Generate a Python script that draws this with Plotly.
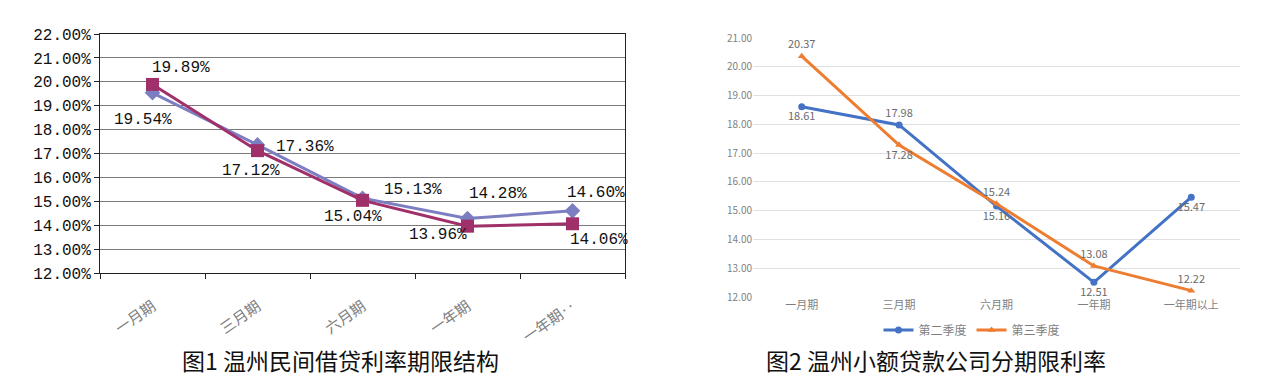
import plotly.graph_objects as go

# ---- data: chart 1 (温州民间借贷利率期限结构) ----
cats1 = ["一月期", "三月期", "六月期", "一年期", "一年期‥"]
s1_a = [19.54, 17.36, 15.13, 14.28, 14.60]   # diamond series
s1_b = [19.89, 17.12, 15.04, 13.96, 14.06]   # square series
y1_ticks = [12, 13, 14, 15, 16, 17, 18, 19, 20, 21, 22]

# ---- data: chart 2 (温州小额贷款公司分期限利率) ----
cats2 = ["一月期", "三月期", "六月期", "一年期", "一年期以上"]
q2 = [18.61, 17.98, 15.16, 12.51, 15.47]     # 第二季度
q3 = [20.37, 17.28, 15.24, 13.08, 12.22]     # 第三季度
y2_ticks = [12, 13, 14, 15, 16, 17, 18, 19, 20, 21]

# label offsets (styling, in px) for chart 1 data labels
off_a = [(-10, 27), (47, 2), (50, -8), (30, -25), (23, -18)]
off_b = [(28, -16), (-7, 20), (-10, 17), (-30, 9), (26, 16)]

W, H = 1265, 389
OX, OY = 8, 8   # page body margin compensation
def px(x):
    return (x - OX) / W
def py(y):
    return 1 - (y - OY) / H

mono = "Liberation Mono, DejaVu Sans Mono, monospace"
cjk = "Noto Sans CJK SC, sans-serif"

fig = go.Figure()

# chart 1 traces
fig.add_trace(go.Scatter(
    x=cats1, y=s1_a, mode="lines+markers", xaxis="x", yaxis="y",
    line=dict(color="#7C7EC2", width=3),
    marker=dict(symbol="diamond", size=12, color="#7C7EC2"),
    showlegend=False, cliponaxis=False))
fig.add_trace(go.Scatter(
    x=cats1, y=s1_b, mode="lines+markers", xaxis="x", yaxis="y",
    line=dict(color="#A0306A", width=3),
    marker=dict(symbol="square", size=13, color="#A0306A"),
    showlegend=False, cliponaxis=False))

# chart 2 traces
fig.add_trace(go.Scatter(
    x=cats2, y=q2, mode="lines+markers+text", xaxis="x2", yaxis="y2",
    name="第二季度",
    line=dict(color="#4472C4", width=3),
    marker=dict(symbol="circle", size=7, color="#4472C4"),
    text=[f"{v:.2f}" for v in q2],
    textposition=["bottom center", "top center", "bottom center", "bottom center", "bottom center"],
    textfont=dict(family=cjk, size=11, color="#6b6b6b"),
    cliponaxis=False))
fig.add_trace(go.Scatter(
    x=cats2, y=q3, mode="lines+markers+text", xaxis="x2", yaxis="y2",
    name="第三季度",
    line=dict(color="#ED7D31", width=3),
    marker=dict(symbol="triangle-up", size=7, color="#ED7D31"),
    text=[f"{v:.2f}" for v in q3],
    textposition=["top center", "bottom center", "top center", "top center", "top center"],
    textfont=dict(family=cjk, size=11, color="#6b6b6b"),
    cliponaxis=False))

annos = []
for series, offs in ((s1_a, off_a), (s1_b, off_b)):
    for c, v, (dx, dy) in zip(cats1, series, offs):
        annos.append(dict(text=f"{v:.2f}%", x=c, y=v, xref="x", yref="y",
                          showarrow=False, xanchor="center", yanchor="middle",
                          xshift=dx, yshift=-dy,
                          font=dict(family=mono, size=16, color="#111111")))

annos += [
    dict(text="图1 温州民间借贷利率期限结构", x=px(340), y=py(360),
         xref="paper", yref="paper", showarrow=False,
         xanchor="center", yanchor="middle",
         font=dict(family=cjk, size=23, color="#111111")),
    dict(text="图2 温州小额贷款公司分期限利率", x=px(936), y=py(360),
         xref="paper", yref="paper", showarrow=False,
         xanchor="center", yanchor="middle",
         font=dict(family=cjk, size=23, color="#111111")),
]

fig.update_layout(
    width=W, height=H,
    margin=dict(l=0, r=0, t=0, b=0, autoexpand=False),
    paper_bgcolor="white", plot_bgcolor="white",
    xaxis=dict(domain=[px(100), px(625)], type="category", range=[-0.5, 4.5],
               showline=True, linecolor="#222222", linewidth=1, mirror=True,
               ticks="outside", tickson="boundaries", ticklen=5, tickcolor="#222222",
               tickangle=-35, ticklabelstandoff=18,
               tickfont=dict(family=cjk, size=15, color="#808080"),
               showgrid=False, anchor="y", automargin=False),
    yaxis=dict(domain=[py(273), py(34)], range=[12, 22], tickvals=y1_ticks,
               ticktext=[f"{t:.2f}%" for t in y1_ticks],
               showline=True, linecolor="#222222", linewidth=1, mirror=True,
               ticks="outside", ticklen=5, tickcolor="#222222",
               tickfont=dict(family=mono, size=16, color="#111111"),
               showgrid=True, gridcolor="#7a7a7a", gridwidth=1, zeroline=False,
               anchor="x", automargin=False),
    xaxis2=dict(domain=[px(753), px(1240)], type="category", range=[-0.5, 4.5],
                showline=False, ticks="", showgrid=False,
                tickfont=dict(family=cjk, size=11, color="#7f7f7f"),
                anchor="y2", automargin=False),
    yaxis2=dict(domain=[py(297), py(38)], range=[12, 21], tickvals=y2_ticks,
                ticktext=[f"{t:.2f}" for t in y2_ticks],
                showline=False, ticks="",
                tickfont=dict(family=cjk, size=10, color="#7f7f7f"),
                showgrid=True, gridcolor="#e0e0e0", gridwidth=1, zeroline=False,
                anchor="x2", automargin=False),
    legend=dict(orientation="h", x=px(972), y=py(330), xanchor="center", yanchor="middle",
                font=dict(family=cjk, size=12, color="#7f7f7f"),
                bgcolor="rgba(0,0,0,0)"),
    annotations=annos,
)

fig.write_html("out.html")
